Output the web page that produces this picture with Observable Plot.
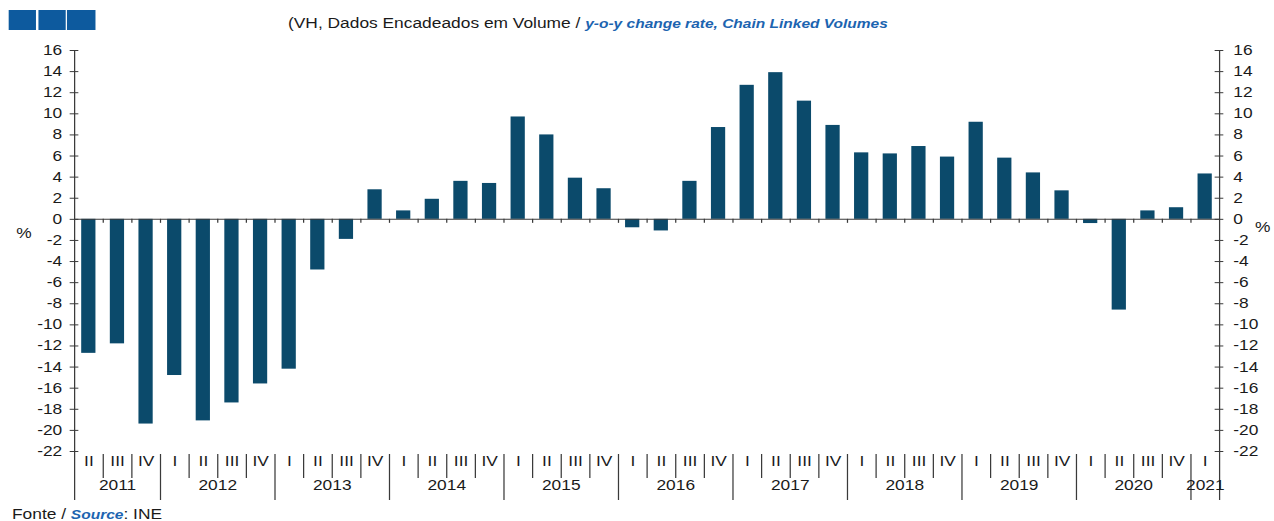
<!DOCTYPE html>
<html>
<head>
<meta charset="utf-8">
<script src="https://cdn.jsdelivr.net/npm/d3@7"></script>
<script src="https://cdn.jsdelivr.net/npm/@observablehq/plot@0.6"></script>
<style>
  html, body { margin: 0; padding: 0; background: #fff; overflow: hidden; }
  #wrap { position: relative; height: 521px; transform-origin: 0 0; font-family: "Liberation Sans", Arial, sans-serif; color: #1a1a1a; }
  .sq { position: absolute; top: 10px; width: 22.5px; height: 20px; background: #0d5a9e; }
  #title { position: absolute; top: 15px; font-size: 14px; line-height: 16px; white-space: nowrap; }
  #foot { position: absolute; top: 506px; font-size: 14px; line-height: 16px; white-space: nowrap; }
  .en { color: #1c64b0; font-weight: bold; font-style: italic; font-size: 12.5px; }
  #chart { position: absolute; left: 0; top: 0; }
</style>
</head>
<body>
<div id="wrap">
  <div class="sq" style="left:6.5px"></div>
  <div class="sq" style="left:30.6px"></div>
  <div class="sq" style="left:54px"></div>
  <div id="title">(VH, Dados Encadeados em Volume / <span class="en">y-o-y change rate, Chain Linked Volumes</span></div>
  <div id="chart"></div>
  <div id="foot">Fonte / <span class="en">Source</span>: INE</div>
</div>
<script>
// ---- data ----
const years = [2011, 2011, 2011,
  2012, 2012, 2012, 2012,
  2013, 2013, 2013, 2013,
  2014, 2014, 2014, 2014,
  2015, 2015, 2015, 2015,
  2016, 2016, 2016, 2016,
  2017, 2017, 2017, 2017,
  2018, 2018, 2018, 2018,
  2019, 2019, 2019, 2019,
  2020, 2020, 2020, 2020,
  2021];
const quarters = ["II", "III", "IV",
  "I", "II", "III", "IV",
  "I", "II", "III", "IV",
  "I", "II", "III", "IV",
  "I", "II", "III", "IV",
  "I", "II", "III", "IV",
  "I", "II", "III", "IV",
  "I", "II", "III", "IV",
  "I", "II", "III", "IV",
  "I", "II", "III", "IV",
  "I"];
const values = [-12.7, -11.8, -19.4,
  -14.8, -19.1, -17.4, -15.6,
  -14.2, -4.8, -1.9, 2.8,
  0.8, 1.9, 3.6, 3.4,
  9.7, 8.0, 3.9, 2.9,
  -0.8, -1.1, 3.6, 8.7,
  12.7, 13.9, 11.2, 8.9,
  6.3, 6.2, 6.9, 5.9,
  9.2, 5.8, 4.4, 2.7,
  -0.4, -8.6, 0.8, 1.1,
  4.3];
const yTicks = [16, 14, 12, 10, 8, 6, 4, 2, 0, -2, -4, -6, -8, -10, -12, -14, -16, -18, -20, -22];

// ---- derived tables ----
const rows = values.map((v, i) => ({i, v, q: quarters[i], year: years[i]}));
const n = rows.length;
const bounds = d3.range(1, n);
const yearSeps = bounds.filter(i => years[i] !== years[i - 1]);
const quarterSeps = bounds.filter(i => years[i] === years[i - 1]);
const yearLabels = Array.from(d3.group(rows, d => d.year), ([year, rs]) => ({year, c: d3.mean(rs, r => r.i + 0.5)}));

// ---- layout (the source image is stretched horizontally) ----
const S = 1.24;
const W = 1274 / S, H = 521;
const mT = 50, mB = 70, mL = 74 / S, mR = (1274 - 1219) / S;
const frameH = H - mT - mB;
const ink = "#3a3a3a";
const barColor = "#0b4a6b";

const wrap = document.getElementById("wrap");
wrap.style.width = W + "px";
wrap.style.transform = `scaleX(${S})`;
document.getElementById("title").style.left = (288 / S) + "px";
document.getElementById("foot").style.left = (12 / S) + "px";

const chart = Plot.plot({
  width: W,
  height: H,
  marginTop: mT,
  marginBottom: mB,
  marginLeft: mL,
  marginRight: mR,
  x: {domain: [0, n], axis: null},
  y: {domain: [-22, 16], axis: null},
  style: {fontFamily: "'Liberation Sans', Arial, sans-serif", fontSize: "14px", color: "#1a1a1a", background: "transparent", overflow: "visible"},
  marks: [
    Plot.rect(rows, {x1: "i", x2: d => d.i + 1, y1: 0, y2: "v", insetLeft: 5.8, insetRight: 5.8, fill: barColor}),
    Plot.ruleY([0], {stroke: ink}),
    Plot.ruleX(bounds, {x: d => d, y1: 0, y2: 0, insetTop: 0, insetBottom: -4, stroke: ink}),
    Plot.ruleX([0, n], {x: d => d, insetBottom: -49, stroke: ink}),
    Plot.ruleY(yTicks, {y: d => d, x1: 0, x2: 0, insetLeft: -3.5, insetRight: -3.5, stroke: ink}),
    Plot.ruleY(yTicks, {y: d => d, x1: n, x2: n, insetLeft: -3.5, insetRight: -3.5, stroke: ink}),
    Plot.text(yTicks, {y: d => d, frameAnchor: "left", dx: -10, textAnchor: "end", text: d => String(d), fill: "#1a1a1a"}),
    Plot.text(yTicks, {y: d => d, frameAnchor: "right", dx: 11, textAnchor: "start", text: d => String(d), fill: "#1a1a1a"}),
    Plot.text(["%"], {frameAnchor: "left", y: 0, dx: -47, dy: 14, text: d => d, fill: "#1a1a1a"}),
    Plot.text(["%"], {frameAnchor: "right", y: 0, dx: 41, dy: 8, text: d => d, fill: "#1a1a1a"}),
    Plot.ruleX(quarterSeps, {x: d => d, insetTop: frameH + 3, insetBottom: -27, stroke: ink}),
    Plot.ruleX(yearSeps, {x: d => d, insetTop: frameH + 3, insetBottom: -49, stroke: ink}),
    Plot.text(rows, {x: d => d.i + 0.5, frameAnchor: "bottom", dy: 15, text: "q", fill: "#1a1a1a"}),
    Plot.text(yearLabels, {x: "c", frameAnchor: "bottom", dy: 39, text: d => String(d.year), fill: "#1a1a1a"})
  ]
});
document.getElementById("chart").appendChild(chart);
</script>
</body>
</html>
